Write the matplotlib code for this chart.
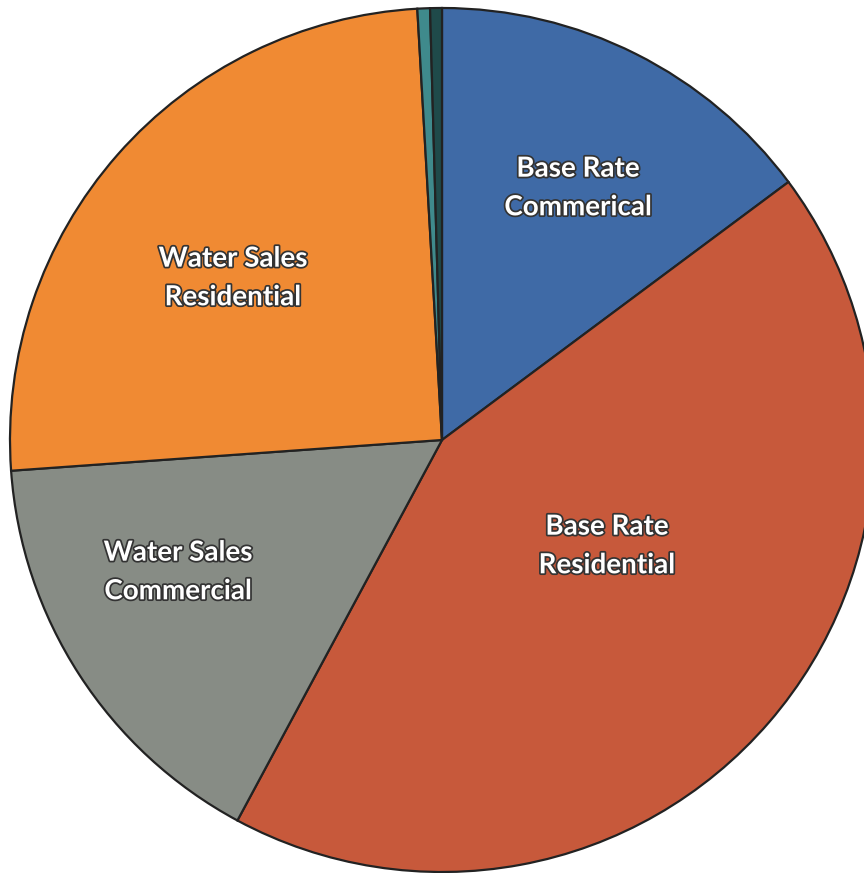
import matplotlib.pyplot as plt
import matplotlib.patheffects as pe

# slice shares (percent), clockwise from 12 o'clock
labels = ["Base Rate\nCommerical", "Base Rate\nResidential", "Water Sales\nCommercial",
          "Water Sales\nResidential", "", ""]
values = [14.8, 43.0, 16.0, 25.2, 0.47, 0.44]
colors = ["#3f6aa6", "#c7593b", "#878c85", "#f08a33", "#3f8a8c", "#1f4a4a"]

# label spots in pixel coords (x, y from top)
label_xy = [(578, 188), (607, 546), (178, 572), (233, 278)]

fig = plt.figure(figsize=(8.64, 8.73), dpi=100)
ax = fig.add_axes([0, 0, 1, 1])

# pie goes clockwise from 12 o'clock
wedges, _ = ax.pie(values, colors=colors, startangle=90, counterclock=False,
                   center=(442, 433), radius=432, frame=True,
                   wedgeprops=dict(edgecolor="#222222", linewidth=1.6))
ax.set_xlim(0, 864)
ax.set_ylim(0, 873)
ax.set_aspect("equal")
ax.axis("off")

for txt, (x, y) in zip(labels[:4], label_xy):
    ax.text(x, 873 - y, txt, ha="center", va="center", color="white",
            fontsize=20, fontweight="bold", family="Lato", linespacing=1.6,
            path_effects=[pe.withStroke(linewidth=2.5, foreground="#333333")])

fig.savefig("out.png", dpi=100)
